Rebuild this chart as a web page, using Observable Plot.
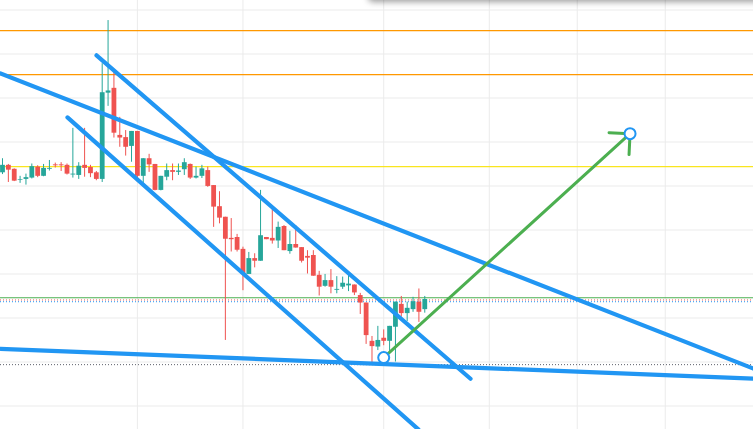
<!DOCTYPE html>
<html><head><meta charset="utf-8">
<script src="https://cdn.jsdelivr.net/npm/d3@7"></script>
<script src="https://cdn.jsdelivr.net/npm/@observablehq/plot@0.6"></script>
<style>
html,body{margin:0;padding:0;background:#fff;overflow:hidden;}
#wrap{position:relative;width:753px;height:429px;overflow:hidden;}
#shadow{position:absolute;left:368px;top:-20px;width:420px;height:20px;background:#fff;border-radius:5px;box-shadow:0 2px 6px rgba(0,0,0,0.38);z-index:2;}
svg{display:block;}
</style></head><body><div id="wrap"><div id="shadow"></div></div>
<script>
// Candle data (bar index, OHLC)
const bars = d3.range(73);
const open = [63.0,64.7,63.8,61.25,61.5,61.8,64.3,62.2,63.8,64.8,
  64.8,64.7,62.5,62.4,64.7,64.2,63.0,61.5,81.1,82.2,
  71.5,71.0,69.0,72.4,62.2,66.2,64.9,59.0,62.0,63.5,
  63.1,63.7,64.9,61.8,62.2,63.5,60.1,55.3,52.9,48.1,
  48.3,45.6,39.9,43.5,42.9,48.3,48.1,47.5,50.8,45.1,
  46.7,46.0,44.0,44.2,39.7,37.2,38.5,36.3,37.0,37.3,
  37.5,35.1,33.4,24.7,23.4,25.4,24.7,27.9,33.1,31.0,
  31.9,33.6,31.9];
const high = [66.2,64.9,63.9,62.2,62.7,65.0,64.6,64.9,65.8,65.2,
  65.3,65.0,73.1,65.3,73.1,64.7,63.3,87.8,97.6,86.2,
  75.6,72.6,72.4,72.4,66.2,67.2,64.9,62.2,65.0,65.0,
  65.0,66.2,65.0,64.3,64.7,64.3,60.1,58.7,52.9,52.6,
  49.0,46.1,44.9,44.6,59.0,48.3,55.0,51.8,51.0,49.7,
  51.0,46.0,45.3,45.3,40.6,39.9,41.0,39.4,39.3,39.9,
  37.5,35.6,33.4,25.8,28.1,27.3,28.1,33.6,34.9,33.6,
  34.7,36.6,34.9];
const low = [62.6,60.8,61.0,60.6,60.2,61.6,61.9,62.1,63.4,64.1,
  63.3,62.5,61.8,61.5,62.0,61.9,61.2,60.8,78.1,70.9,
  68.8,66.8,65.4,60.9,60.6,63.1,58.9,58.9,61.2,61.2,
  62.4,62.4,61.5,61.6,61.7,59.7,50.6,51.4,24.9,45.0,
  45.0,36.2,39.9,41.4,42.9,47.8,46.8,45.8,45.3,44.5,
  45.9,42.5,40.0,39.5,35.0,37.0,35.5,35.5,36.5,36.0,
  35.1,30.8,24.0,19.3,22.6,23.7,22.4,20.0,30.2,29.2,
  31.3,29.0,31.1];
const close = [64.7,63.6,61.1,61.4,61.9,64.4,62.2,64.0,64.0,64.6,
  64.6,62.7,62.7,64.5,64.0,62.8,61.5,81.2,81.6,72.0,
  70.9,68.8,72.4,62.2,66.2,64.8,59.0,62.2,63.5,63.1,
  63.4,65.3,61.8,62.2,63.9,59.9,55.2,52.7,47.9,47.8,
  45.4,39.9,43.5,42.9,48.7,47.8,47.5,50.6,45.3,46.7,
  45.9,42.9,43.6,39.5,37.0,38.5,37.0,36.5,37.9,37.7,
  35.7,33.4,26.0,23.5,24.9,24.7,28.1,33.6,31.0,32.2,
  33.7,31.3,34.2];

// Grid ticks
const gridPrices = [10,20,30,40,50,60,70,80,90,100];
const gridBars = [23,41,65,83,98,113];

// Horizontal levels
const orangeLevels = [95.3, 85.3];
const yellowLevels = [64.4];
const lastPrice = [34.6];
const redPriceLine = [34.1];
const bluePriceLine = [33.7];
const lowLevel = [19.4];

// Trend lines: [x1, y1, x2, y2]
const lineA = [-0.34, 85.6, 128.05, 18.5];
const lineB = [16.03, 89.7, 79.8, 16.2];
const lineC = [11.08, 75.6, 70.9, 4.7];
const lineD = [-0.34, 23.0, 128.05, 16.2];
const trendLines = [lineA, lineB, lineC, lineD];

// Projection arrow
const arrowStart = [65, 21.0];
const arrowEnd = [107, 71.9];

const candles = bars.map(i => ({i, o: open[i], h: high[i], l: low[i], c: close[i]}));
const up = "#26a69a", down = "#ef5350";
const col = d => d.c >= d.o ? up : down;
const trends = trendLines.map(([x1,y1,x2,y2]) => ({x1,y1,x2,y2}));

const chart = Plot.plot({
  width: 753, height: 429,
  margin: 0,
  x: {domain: [-0.34, 128.05], axis: null},
  y: {domain: [4.66, 102.16], axis: null},
  style: {background: "#fff", overflow: "visible"},
  marks: [
    Plot.ruleY(gridPrices, {stroke: "#ebebeb", strokeWidth: 1}),
    Plot.ruleX(gridBars, {stroke: "#ebebeb", strokeWidth: 1}),
    Plot.ruleY(orangeLevels, {stroke: "#ff9800", strokeWidth: 1.3}),
    Plot.ruleY(yellowLevels, {stroke: "#f9e51f", strokeWidth: 1.3}),
    Plot.ruleY(lastPrice, {stroke: "#4caf50", strokeWidth: 1}),
    Plot.ruleY(redPriceLine, {stroke: "#ef5350", strokeWidth: 1, strokeDasharray: "1,2"}),
    Plot.ruleY(bluePriceLine, {stroke: "#2196f3", strokeWidth: 1, strokeDasharray: "1,2"}),
    Plot.ruleY(lowLevel, {stroke: "#5d606b", strokeWidth: 1, strokeDasharray: "1,2"}),
    Plot.ruleX(candles, {x: "i", y1: "l", y2: "h", stroke: col, strokeWidth: 1}),
    Plot.ruleX(candles, {x: "i", y1: "o", y2: "c", stroke: col, strokeWidth: 4.8}),
    Plot.link(trends, {x1: "x1", y1: "y1", x2: "x2", y2: "y2", stroke: "#2196f3", strokeWidth: 4.2, strokeLinecap: "round"}),
    Plot.arrow([{x1: arrowStart[0], y1: arrowStart[1], x2: arrowEnd[0], y2: arrowEnd[1]}],
      {x1: "x1", y1: "y1", x2: "x2", y2: "y2", stroke: "#4caf50", strokeWidth: 3, headAngle: 90, headLength: 10.5}),
    Plot.dot([arrowStart, arrowEnd], {x: d => d[0], y: d => d[1], r: 5.5, fill: "#fff", stroke: "#2196f3", strokeWidth: 2})
  ]
});
document.getElementById("wrap").appendChild(chart);
</script>
</body></html>
